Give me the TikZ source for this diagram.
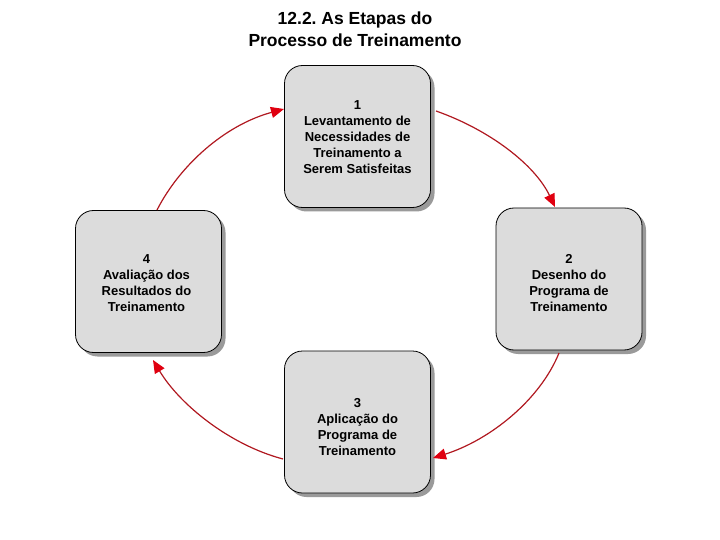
\documentclass[tikz,border=0pt]{standalone}
\usepackage{fontspec}
\setmainfont{Liberation Sans}
\usetikzlibrary{arrows.meta,shadows}
\frenchspacing
\definecolor{boxgray}{HTML}{DCDCDC}
\definecolor{shadowgray}{HTML}{9A9A9A}
\definecolor{linered}{HTML}{B01820}
\definecolor{headred}{HTML}{E00010}
\begin{document}
\begin{tikzpicture}[x=1pt,y=-1pt,
  stage/.style={draw=black, line width=0.8pt, fill=boxgray, rounded corners=18pt,
    minimum width=146pt, minimum height=142pt,
    drop shadow={shadow xshift=4pt, shadow yshift=-4pt, fill=shadowgray, opacity=1}},
  stagetext/.style={align=center, font=\bfseries\fontsize{13}{16}\selectfont},
  flow/.style={draw=linered, line width=1.2pt,
    -{Triangle[length=13pt,width=11pt,color=headred,fill=headred]}}]
\useasboundingbox (0,0) rectangle (720,540);
\node[font=\bfseries\fontsize{17.5}{22}\selectfont, align=center] (title) at (355,29)
  {12.2. As Etapas do\\Processo de Treinamento};
\node[stage] (s1) at (357.5,136.5) {};
\node[stage] (s2) at (569,279) {};
\node[stage] (s3) at (357.5,422) {};
\node[stage] (s4) at (148.5,281.5) {};
\node[stagetext] (t1) at ([yshift=-1pt]s1.center) {1\\Levantamento de\\Necessidades de\\Treinamento a\\Serem Satisfeitas};
\node[stagetext] (t2) at ([yshift=-4pt]s2.center) {2\\Desenho do\\Programa de\\Treinamento};
\node[stagetext] (t3) at ([yshift=-5pt]s3.center) {3\\Aplicação do\\Programa de\\Treinamento};
\node[stagetext] (t4) at ([xshift=-2pt,yshift=-2pt]s4.center) {4\\Avaliação dos\\Resultados do\\Treinamento};
\coordinate (a1s) at (436,111);
\coordinate (a1e) at (555,207);
\coordinate (a2s) at (559,353);
\coordinate (a2e) at (433,458);
\coordinate (a3s) at (283,459);
\coordinate (a3e) at (153,360);
\coordinate (a4s) at (157,210);
\coordinate (a4e) at (284,109);
\draw[flow] (a1s) .. controls (490,130) and (535,165) .. (a1e);
\draw[flow] (a2s) .. controls (540,400) and (490,440) .. (a2e);
\draw[flow] (a3s) .. controls (230,445) and (180,405) .. (a3e);
\draw[flow] (a4s) .. controls (180,165) and (225,125) .. (a4e);
\end{tikzpicture}
\end{document}
